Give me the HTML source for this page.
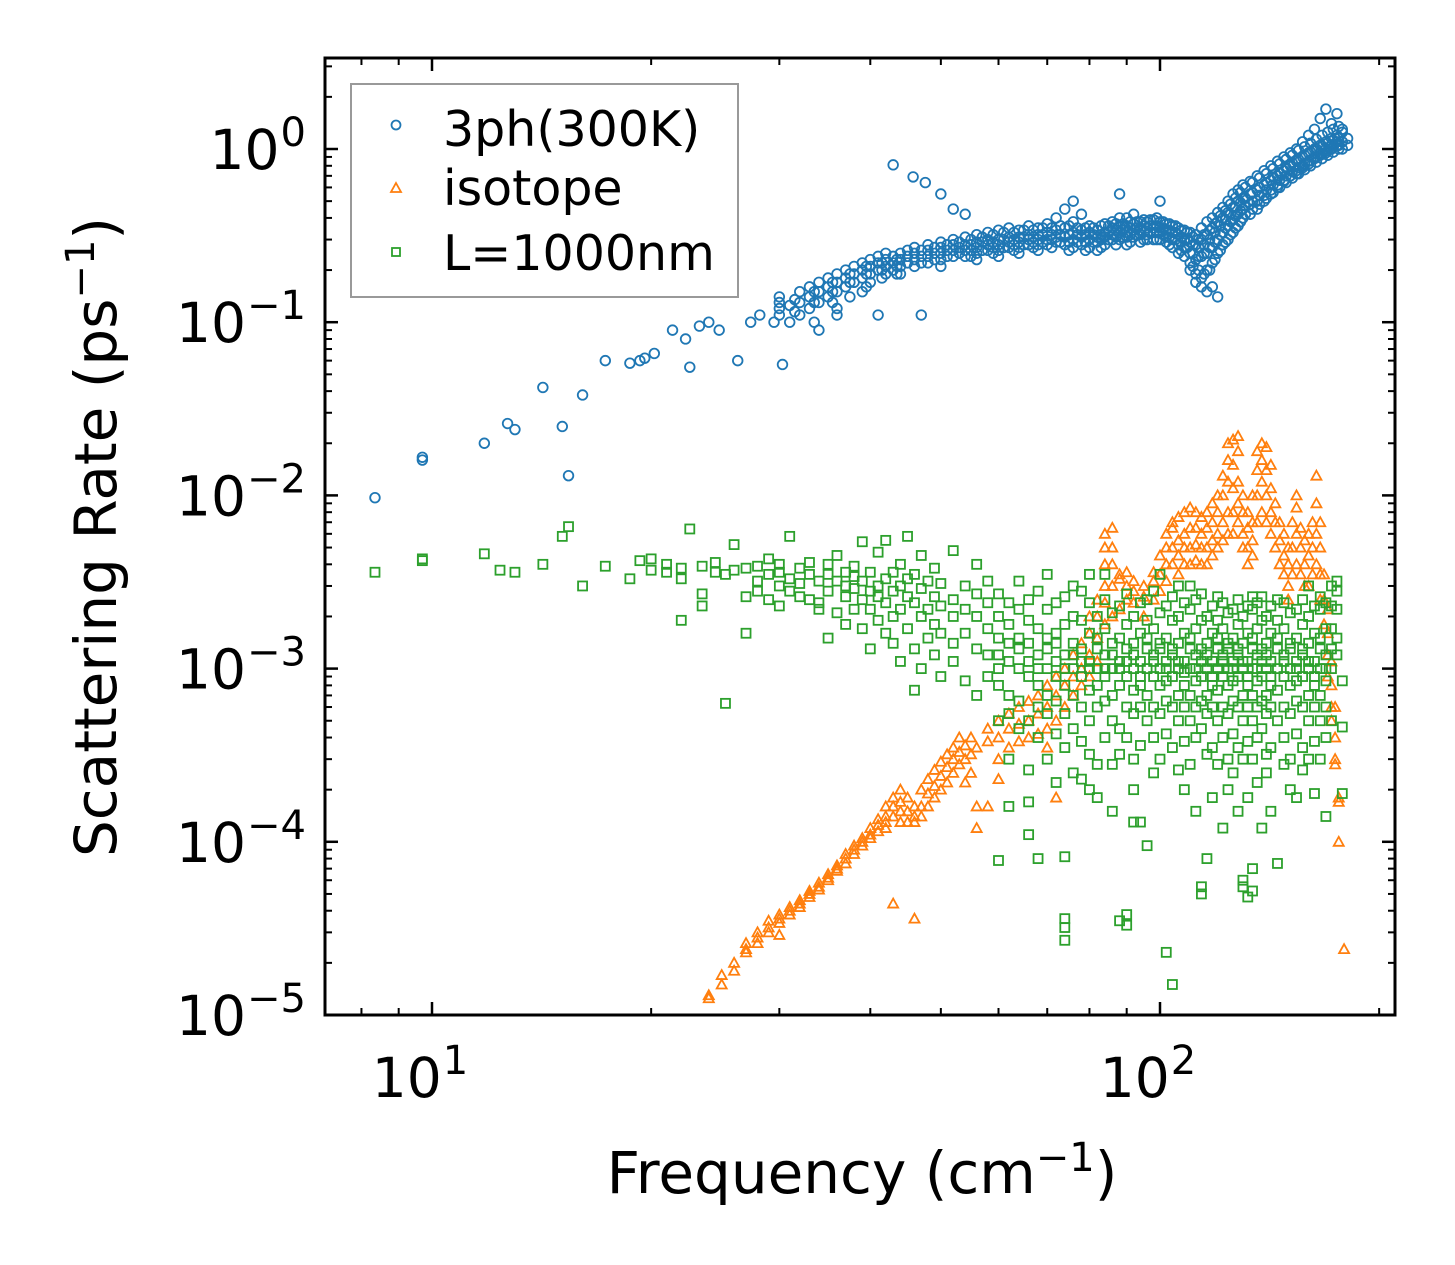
<!DOCTYPE html>
<html><head><meta charset="utf-8"><style>
body{margin:0;background:#fff;}
svg{display:block;font-family:"DejaVu Sans","Liberation Sans",sans-serif;}
</style></head><body>
<svg id="chart" width="1455" height="1265" viewBox="0 0 1455 1265" xmlns="http://www.w3.org/2000/svg">
<rect x="0" y="0" width="1455" height="1265" fill="#fff"/>
<g id="marks"></g>
<g id="axes"></g>
<g id="legend">
<rect x="351" y="84" width="387" height="213" fill="#fff" fill-opacity="0.8" stroke="#999" stroke-width="2"/>
<circle cx="396" cy="125" r="4.5" fill="none" stroke="#1f77b4" stroke-width="1.8"/>
<text x="443" y="146" font-size="49">3ph(300K)</text>
<polygon points="396,183 401,192 391,192" fill="none" stroke="#ff7f0e" stroke-width="1.8"/>
<text x="443" y="205" font-size="49">isotope</text>
<rect x="392" y="248" width="8" height="8" fill="none" stroke="#2ca02c" stroke-width="1.8"/>
<text x="443" y="270" font-size="49">L=1000nm</text>
</g>
<text x="862" y="1193" font-size="58" text-anchor="middle">Frequency (cm<tspan font-size="40" dy="-22">−1</tspan><tspan dy="22">)</tspan></text>
<text transform="translate(116,537) rotate(-90)" font-size="58" text-anchor="middle">Scattering Rate (ps<tspan font-size="40" dy="-22">−1</tspan><tspan dy="22">)</tspan></text>
</svg>
<script>
const xDecadeTicks=[10,100];
const yDecadeTicks=[1,0.1,0.01,0.001,0.0001,0.00001];
const yTickExps=["0","−1","−2","−3","−4","−5"];
const xTickExps=["1","2"];
const blueData=[[8.35,[0.0097]],[9.7,[0.0166,0.016]],[11.8,[0.020]],[12.7,[0.026]],[13.0,[0.024]],[14.2,[0.042]],[15.1,[0.025]],[15.4,[0.013]],[16.1,[0.038]],[17.3,[0.06]],[18.7,[0.058]],[19.3,[0.06]],[19.6,[0.062]],[20.2,[0.066]],[21.4,[0.09]],[22.3,[0.08]],[22.6,[0.055]],[23.3,[0.095]],[24,[0.1]],[24.8,[0.09]],[26.3,[0.06]],[27.4,[0.1]],[28.2,[0.11]],[29.5,[0.10]],[30.3,[0.057]],
[30,[0.12,0.13,0.11,0.14]],[31,[0.125,0.10]],[32,[0.13,0.15,0.11]],[33,[0.14,0.16,0.12]],[34,[0.15,0.17,0.13,0.09]],[35,[0.16,0.14,0.18]],[36,[0.17,0.15,0.19,0.12,0.11]],[37,[0.18,0.2,0.16]],[38,[0.19,0.17,0.21]],[39,[0.2,0.18,0.22,0.15]],[40,[0.21,0.19,0.23,0.17]],[41,[0.2,0.22,0.24,0.11]],[42,[0.21,0.23,0.19,0.25]],[43,[0.22,0.24,0.2,0.81]],[44,[0.23,0.21,0.25,0.19]],[45,[0.24,0.22,0.26]],[45.8,[0.69]],[46,[0.23,0.25,0.21,0.27]],[47,[0.11]],[47.6,[0.64]],[48,[0.24,0.26,0.22,0.28]],[50,[0.25,0.27,0.23,0.29,0.21,0.55]],[52,[0.26,0.24,0.28,0.3,0.45]],[54,[0.26,0.28,0.24,0.31,0.42]],[56,[0.27,0.25,0.29,0.32,0.23]],[58,[0.28,0.26,0.3,0.33]],[60,[0.28,0.3,0.26,0.34,0.24]],[62,[0.29,0.27,0.31,0.35]],[64,[0.29,0.31,0.27,0.34,0.25]],[66,[0.3,0.28,0.32,0.36]],[68,[0.3,0.32,0.28,0.35,0.26]],[70,[0.3,0.33,0.28,0.37]],[72,[0.31,0.29,0.34,0.4]],[74,[0.31,0.28,0.35,0.45]],[76,[0.3,0.33,0.27,0.5,0.38]],[78,[0.31,0.28,0.34,0.42]],[80,[0.3,0.33,0.27,0.36]],[82,[0.31,0.29,0.34,0.26]],[84,[0.31,0.33,0.28,0.37]],[86,[0.32,0.3,0.35,0.38]],[88,[0.33,0.3,0.36,0.4,0.55]],[90,[0.33,0.31,0.36,0.4,0.28]],[92,[0.34,0.31,0.37,0.42]],[94,[0.34,0.32,0.38,0.29]],[96,[0.35,0.32,0.38,0.3]],[98,[0.35,0.33,0.39,0.3]],[100,[0.35,0.33,0.38,0.5,0.3]],[102,[0.34,0.31,0.37,0.29]],[104,[0.33,0.3,0.36,0.27]],[106,[0.32,0.28,0.35,0.25]],[108,[0.3,0.27,0.34,0.24]],[110,[0.29,0.25,0.33,0.2,0.22]],[112,[0.28,0.23,0.32,0.19,0.17]],[114,[0.3,0.24,0.35,0.18,0.16]],[116,[0.32,0.25,0.38,0.2,0.15]],[118,[0.35,0.27,0.4,0.22,0.16]],[120,[0.38,0.3,0.43,0.25,0.14]],[122,[0.4,0.33,0.46,0.28]],[124,[0.43,0.36,0.5,0.3]],[126,[0.46,0.39,0.55,0.33]],[128,[0.5,0.42,0.58,0.36]],[130,[0.52,0.45,0.62,0.4]],[133,[0.55,0.48,0.65,0.42]],[136,[0.58,0.5,0.7,0.45]],[139,[0.62,0.54,0.75,0.5]],[142,[0.66,0.58,0.8,0.55]],[145,[0.7,0.62,0.85,0.6]],[148,[0.75,0.66,0.9,0.65]],[151,[0.8,0.7,0.95,0.7]],[154,[0.85,0.75,1.0,0.72]],[157,[0.9,0.8,1.1,0.78]],[160,[0.95,0.85,1.2,0.82]],[163,[1.0,0.9,1.3,0.88]],[166,[1.05,0.95,1.5,0.92]],[169,[1.1,1.0,1.7,0.95]],[172,[1.15,1.05,1.4,1.0]],[175,[1.2,1.1,1.6,1.05]],[178,[1.1,1.25,1.0,1.3]],[181,[1.05,1.15]]];
const blueFill=[[31.5,[0.115,0.135]],[33.5,[0.13,0.15,0.1]],[35.5,[0.15,0.17,0.13]],[37.5,[0.17,0.19,0.14]],[39.5,[0.19,0.21,0.16]],[41.5,[0.2,0.22,0.18]],[43.5,[0.21,0.23,0.19]],[47,[0.22,0.24,0.26]],[49,[0.23,0.25,0.27]],[51,[0.24,0.26,0.28]],[53,[0.25,0.27,0.29]],[55,[0.26,0.28,0.3,0.24]],[57,[0.26,0.29,0.31]],[59,[0.27,0.29,0.32,0.25]],[61,[0.27,0.3,0.33]],[63,[0.28,0.3,0.33,0.26]],[65,[0.28,0.31,0.34]],[67,[0.29,0.31,0.34,0.27]],[69,[0.29,0.32,0.35]],[71,[0.3,0.32,0.35,0.27]],[73,[0.29,0.32,0.36]],[75,[0.29,0.32,0.36,0.26]],[77,[0.29,0.32,0.35]],[79,[0.29,0.32,0.35,0.26]],[81,[0.29,0.32,0.35]],[83,[0.3,0.32,0.36,0.27]],[85,[0.3,0.33,0.36]],[87,[0.31,0.34,0.37,0.28]],[89,[0.31,0.34,0.37]],[91,[0.32,0.35,0.38,0.29]],[93,[0.32,0.35,0.38]],[95,[0.33,0.36,0.39,0.3]],[97,[0.33,0.36,0.39]],[99,[0.33,0.36,0.4,0.3]],[101,[0.32,0.35,0.38]],[103,[0.31,0.34,0.37,0.28]],[105,[0.3,0.33,0.36]],[107,[0.29,0.31,0.34,0.26]],[109,[0.27,0.3,0.33]],[111,[0.25,0.28,0.31,0.21]],[113,[0.24,0.27,0.3,0.2]],[115,[0.25,0.28,0.32,0.19]],[117,[0.27,0.3,0.34,0.2]],[119,[0.29,0.33,0.37,0.23]],[121,[0.32,0.36,0.41,0.26]],[123,[0.35,0.39,0.44,0.29]],[125,[0.38,0.42,0.48,0.32]],[127,[0.41,0.46,0.52,0.35]],[129,[0.44,0.49,0.56,0.38]],[131,[0.47,0.52,0.6,0.42]],[134,[0.5,0.56,0.64,0.45]],[137,[0.54,0.6,0.68,0.48]],[140,[0.58,0.64,0.72,0.52]],[143,[0.62,0.69,0.77,0.56]],[146,[0.66,0.73,0.82,0.6]],[149,[0.7,0.78,0.87,0.64]],[152,[0.74,0.83,0.92,0.68]],[155,[0.78,0.87,0.98,0.72]],[158,[0.82,0.92,1.03,0.76]],[161,[0.86,0.96,1.08,0.8]],[164,[0.9,1.0,1.14,0.84]],[167,[0.94,1.04,1.2,0.88]],[170,[0.98,1.08,1.25,0.92]],[173,[1.02,1.12,1.3,0.96]],[176,[1.05,1.15,1.35,1.0]]];
const orangeData=[[24,[1.25e-5,1.3e-5]],[25,[1.5e-5,1.7e-5]],[26,[1.8e-5,2.0e-5]],[27,[2.4e-5,2.6e-5,2.3e-5]],[28,[2.6e-5,3.0e-5,2.8e-5]],[29,[3.2e-5,3.5e-5,3.0e-5]],[30,[3.4e-5,3.8e-5,3.6e-5,2.9e-5]],[31,[3.8e-5,4.2e-5,4e-5]],[32,[4.2e-5,4.6e-5,4.4e-5]],[33,[4.8e-5,5.2e-5,5e-5]],[34,[5.3e-5,5.8e-5,5.5e-5]],[35,[6e-5,6.5e-5,6.2e-5]],[36,[6.8e-5,7.3e-5,7e-5]],[37,[7.5e-5,8e-5,8.5e-5]],[38,[8.5e-5,9e-5,9.5e-5]],[39,[9.5e-5,1.0e-4,1.05e-4]],[40,[1.05e-4,1.1e-4,1.2e-4]],[41,[1.15e-4,1.25e-4,1.35e-4]],[42,[1.3e-4,1.4e-4,1.6e-4,1.2e-4]],[43,[1.4e-4,1.6e-4,1.8e-4,4.4e-5]],[44,[1.5e-4,1.7e-4,1.3e-4,2.0e-4]],[45,[1.3e-4,1.5e-4,1.8e-4]],[46,[1.3e-4,1.4e-4,3.6e-5,1.6e-4]],[47,[1.4e-4,1.6e-4,2e-4]],[48,[1.6e-4,1.9e-4,2.3e-4]],[49,[1.8e-4,2.1e-4,2.6e-4]],[50,[2e-4,2.4e-4,2.9e-4]],[51,[2.2e-4,2.7e-4,3.2e-4]],[52,[2.5e-4,3e-4,3.5e-4]],[53,[2.8e-4,3.3e-4,4e-4]],[54,[3e-4,3.6e-4,2.2e-4]],[55,[3.2e-4,4e-4,2.5e-4]],[56,[1.2e-4,1.6e-4,3.5e-4]],[58,[3.8e-4,4.5e-4,1.6e-4]],[60,[4e-4,5e-4,3e-4,2.3e-4]],[62,[4.5e-4,5.5e-4,3.5e-4]],[64,[4.8e-4,6e-4,3.8e-4]],[66,[5e-4,6.5e-4,4e-4]],[68,[5.5e-4,7e-4,4.2e-4]],[70,[6e-4,8e-4,4.5e-4,3.5e-4]],[72,[7e-4,9e-4,5e-4,1.8e-4]],[74,[8e-4,1e-3,6e-4]],[76,[9e-4,1.2e-3,7e-4]],[78,[1e-3,1.4e-3,8e-4]],[80,[1.2e-3,1.6e-3,9e-4,2e-3]],[82,[1.5e-3,2e-3,1.1e-3,2.5e-3]],[84,[1.8e-3,2.4e-3,3e-3,4e-3,5e-3,6e-3]],[86,[2e-3,3e-3,4e-3,5e-3,6.5e-3]],[88,[2.2e-3,3.3e-3,3.5e-3]],[90,[2.5e-3,3e-3,3.6e-3]],[92,[2.8e-3,3.2e-3,2.4e-3]],[95,[2.6e-3,3e-3,2e-3]],[98,[2.5e-3,3.2e-3,3.6e-3]],[100,[2.8e-3,3.5e-3,4.5e-3]],[102,[3.2e-3,4e-3,5e-3,6e-3]],[104,[4e-3,5e-3,6.5e-3,7e-3]],[106,[4.5e-3,5.5e-3,7.5e-3,3.5e-3]],[108,[5e-3,6e-3,8e-3,4e-3]],[110,[5e-3,6.5e-3,8.5e-3,4e-3]],[112,[5.2e-3,6.5e-3,8e-3,4.2e-3]],[114,[5e-3,6e-3,7.5e-3,4e-3]],[116,[5e-3,6.5e-3,8e-3,4e-3]],[118,[5.5e-3,7e-3,9e-3,4.5e-3]],[120,[6e-3,8e-3,1e-2,5e-3]],[122,[7e-3,1e-2,1.3e-2,5.5e-3]],[124,[8e-3,1.2e-2,1.6e-2,6e-3,2e-2]],[126,[8e-3,1.1e-2,1.5e-2,2.1e-2,6e-3]],[128,[7e-3,9e-3,1.2e-2,1.8e-2,2.2e-2]],[130,[6e-3,8e-3,1e-2,5e-3]],[132,[5e-3,6.5e-3,8e-3,4e-3]],[134,[5.5e-3,7e-3,1e-2,4.5e-3]],[136,[7e-3,1e-2,1.4e-2,1.8e-2]],[138,[8e-3,1.2e-2,1.6e-2,2e-2]],[140,[7e-3,1e-2,1.4e-2,1.9e-2]],[142,[6e-3,8e-3,1.1e-2,1.5e-2]],[144,[5e-3,7e-3,9e-3]],[146,[4e-3,5.5e-3,7e-3]],[148,[3.5e-3,4.5e-3,6e-3]],[150,[3e-3,4e-3,5e-3,2.5e-3]],[152,[3.5e-3,5e-3,7e-3]],[154,[4e-3,6e-3,8.5e-3,1e-2]],[156,[3.5e-3,5e-3,6.5e-3]],[158,[3e-3,4e-3,5.5e-3]],[160,[3e-3,4.5e-3,6e-3]],[162,[3.5e-3,5e-3,7e-3]],[164,[4e-3,6e-3,9e-3,1.3e-2]],[166,[2.5e-3,3.5e-3,5e-3,7e-3]],[168,[1.8e-3,2.5e-3,3.5e-3]],[170,[1.2e-3,1.6e-3,2.2e-3,9e-4]],[172,[8e-4,1.1e-3,6e-4,5e-4]],[174,[4e-4,6e-4,3e-4,2.8e-4]],[176,[1.7e-4,1.8e-4,1.0e-4]],[179,[2.4e-5]]];
const greenData=[[8.35,[3.6e-3]],[9.7,[4.3e-3,4.2e-3]],[11.8,[4.6e-3]],[12.4,[3.7e-3]],[13,[3.6e-3]],[14.2,[4e-3]],[15.1,[5.8e-3]],[15.4,[6.6e-3]],[16.1,[3e-3]],[17.3,[3.9e-3]],[18.7,[3.3e-3]],[19.3,[4.2e-3]],[20,[3.7e-3,4.3e-3]],[21,[4e-3,3.6e-3]],[22,[1.9e-3,3.8e-3,3.3e-3]],[22.6,[6.4e-3]],[23.5,[3.9e-3,2.7e-3,2.3e-3]],[24.5,[3.6e-3,4.1e-3]],[25.3,[6.3e-4,3.5e-3]],[26,[5.2e-3,3.7e-3]],[27,[1.6e-3,2.6e-3,3.8e-3]],[28,[3.9e-3,3.2e-3,2.8e-3]],[29,[4.3e-3,3.5e-3,2.5e-3]],[30,[3.6e-3,3e-3,4e-3,2.3e-3]],[31,[3.3e-3,5.8e-3,2.8e-3]],[32,[3.8e-3,3.1e-3,2.6e-3]],[33,[3.5e-3,2.5e-3,4.1e-3]],[34,[2.4e-3,3.2e-3,2.2e-3]],[35,[4e-3,3.5e-3,1.5e-3,2.8e-3]],[36,[3.2e-3,4.5e-3,2.1e-3]],[37,[3.6e-3,3e-3,1.8e-3,2.6e-3]],[38,[3.9e-3,2.9e-3,3.4e-3,2.2e-3]],[39,[3.2e-3,5.4e-3,1.7e-3,2.5e-3]],[40,[3.6e-3,2.8e-3,1.3e-3,2.2e-3]],[41,[3e-3,4.7e-3,1.9e-3,2.6e-3]],[42,[3.3e-3,2.4e-3,1.6e-3,5.5e-3]],[43,[2.8e-3,3.6e-3,1.4e-3,2e-3]],[44,[3e-3,2.2e-3,1.1e-3,4e-3]],[45,[2.6e-3,3.3e-3,1.7e-3,5.8e-3]],[46,[2.4e-3,1.3e-3,3.5e-3,7.5e-4]],[47,[2.9e-3,2e-3,1e-3,4.5e-3]],[48,[2.2e-3,3.2e-3,1.5e-3]],[49,[2.6e-3,1.2e-3,3.8e-3,1.8e-3]],[50,[2.3e-3,3.1e-3,9e-4,1.6e-3]],[52,[2.5e-3,1.4e-3,4.8e-3,2e-3,1.1e-3]],[54,[2.2e-3,3e-3,1.6e-3,8.5e-4]],[56,[2.7e-3,1.3e-3,2e-3,4e-3,7e-4]],[58,[2.4e-3,1.7e-3,9e-4,3.2e-3,1.2e-3]],
[60,[1.2e-3,2e-3,8e-4,1.5e-3,5e-4,2.7e-3,1e-3,7.8e-5]],[62,[1.1e-3,1.8e-3,7e-4,2.4e-3,1.4e-3,5.5e-4,1.6e-4,3e-4]],[64,[1e-3,1.5e-3,2.2e-3,6.5e-4,3.2e-3,1.3e-3,4.5e-4]],[66,[9e-4,1.4e-3,2.5e-3,1.1e-3,5e-4,1.9e-3,2.6e-4,1.7e-4,1.1e-4]],[68,[1.2e-3,8e-4,1.7e-3,2.8e-3,6e-4,1e-3,4e-4,8e-5]],[70,[1e-3,1.5e-3,2.2e-3,7e-4,1.3e-3,5.5e-4,3.5e-3,3e-4]],[72,[1.1e-3,9e-4,1.6e-3,2.4e-3,6.5e-4,1.4e-3,4.2e-4,2.2e-4]],[74,[1.2e-3,8e-4,1.8e-3,2.6e-3,5.5e-4,1e-3,3.5e-4,8.2e-5,3.6e-5,2.7e-5,3.2e-5]],[76,[1e-3,1.4e-3,2e-3,7e-4,3e-3,1.2e-3,4.5e-4,2.5e-4]],[78,[9e-4,1.3e-3,1.9e-3,6e-4,1.1e-3,2.8e-3,3.8e-4,2.3e-4]],[80,[1.1e-3,7.5e-4,1.6e-3,2.4e-3,1e-3,5e-4,3.5e-3,3.2e-4,2e-4]],[82,[1e-3,1.3e-3,8e-4,2e-3,1.5e-3,6e-4,2.8e-4,1.8e-4]],[84,[1.2e-3,9e-4,1.7e-3,2.5e-3,6.5e-4,1e-3,4e-4,3.5e-3]],[86,[1e-3,1.4e-3,7e-4,2.1e-3,1.2e-3,5e-4,2.8e-4,1.5e-4]],[88,[1.1e-3,8e-4,1.5e-3,2.3e-3,1e-3,4.5e-4,3.2e-4,3.5e-5]],[90,[9e-4,1.3e-3,1.8e-3,6e-4,1.1e-3,2.7e-3,4e-4,3.8e-5,3.3e-5]],[92,[1e-3,1.4e-3,7.5e-4,2e-3,1.2e-3,5.5e-4,3e-4,2e-4,1.3e-4]],[94,[1.1e-3,8e-4,1.6e-3,2.4e-3,9e-4,6e-4,3.6e-4,1.3e-4]],[96,[1e-3,1.3e-3,7e-4,1.9e-3,1.5e-3,5e-4,2.5e-3,9.5e-5]],[98,[1.2e-3,9e-4,1.7e-3,6e-4,1.1e-3,2.8e-3,4e-4,2.5e-4]],[100,[1e-3,1.4e-3,8e-4,2.1e-3,1.3e-3,5.5e-4,3.5e-3,3e-4]],[102,[1.1e-3,8.5e-4,1.5e-3,2.3e-3,6.5e-4,1e-3,4.2e-4,2.3e-5]],[104,[9e-4,1.3e-3,1.9e-3,6e-4,1.2e-3,2.6e-3,3.5e-4,1.5e-5]],[106,[1e-3,1.4e-3,7e-4,2e-3,1.1e-3,5e-4,3e-3,2.6e-4]],[108,[1.1e-3,8e-4,1.6e-3,2.4e-3,9.5e-4,6e-4,3.8e-4,2e-4]],[110,[1e-3,1.5e-3,7e-4,2.2e-3,1.3e-3,5e-4,3e-3,2.8e-4]],[112,[1.2e-3,8.5e-4,1.7e-3,2.5e-3,6e-4,1e-3,4e-4,1.5e-4]],[114,[9e-4,1.3e-3,1.9e-3,6.5e-4,1.1e-3,2.7e-3,4.5e-4,5.5e-5,5e-5]],[116,[1e-3,1.4e-3,7e-4,2e-3,1.2e-3,5.5e-4,3.2e-4,8e-5]],[118,[1.1e-3,8e-4,1.6e-3,2.3e-3,9e-4,6e-4,3.5e-4,1.8e-4]],[120,[1e-3,1.3e-3,7.5e-4,1.9e-3,1.5e-3,5e-4,2.6e-3,2.8e-4]],[122,[1.2e-3,9e-4,1.7e-3,6e-4,1.1e-3,2.4e-3,4e-4,1.2e-4]],[124,[1e-3,1.4e-3,8e-4,2.1e-3,1.3e-3,5.5e-4,3e-4,2e-4]],[126,[1.1e-3,8.5e-4,1.5e-3,2.2e-3,6.5e-4,1e-3,4.2e-4,2.5e-4]],[128,[9e-4,1.3e-3,1.8e-3,6e-4,1.2e-3,2.5e-3,3.5e-4,1.5e-4]],[130,[1e-3,1.4e-3,7e-4,2e-3,1.1e-3,5e-4,3e-4,6e-5,5.5e-5]],[132,[1.1e-3,8e-4,1.6e-3,2.3e-3,9e-4,6e-4,3.8e-4,1.8e-4,4.8e-5]],[134,[1e-3,1.5e-3,7e-4,2.2e-3,1.3e-3,5e-4,2.6e-3,3e-4,7e-5,5.2e-5]],[136,[1.2e-3,8.5e-4,1.7e-3,2.4e-3,6e-4,1e-3,4e-4,2.2e-4]],[138,[9e-4,1.3e-3,1.9e-3,6.5e-4,1.1e-3,2.6e-3,4.5e-4,1.2e-4]],[140,[1e-3,1.4e-3,7e-4,2e-3,1.2e-3,5.5e-4,3.2e-4,2.5e-4]],[142,[1.1e-3,8e-4,1.6e-3,2.3e-3,9e-4,6e-4,3.5e-4,1.5e-4]],[145,[1e-3,1.3e-3,7.5e-4,1.9e-3,1.5e-3,5e-4,2.5e-3,7.5e-5]],[148,[1.2e-3,9e-4,1.7e-3,6e-4,1.1e-3,2.4e-3,4e-4,2.8e-4]],[151,[1e-3,1.4e-3,8e-4,2.1e-3,1.3e-3,5.5e-4,3e-4,2e-4]],[154,[1.1e-3,8.5e-4,1.5e-3,2.2e-3,6.5e-4,1e-3,4.2e-4,1.8e-4]],[157,[9e-4,1.3e-3,1.8e-3,6e-4,1.2e-3,2.5e-3,3.5e-4,2.6e-4]],[160,[1e-3,1.4e-3,7e-4,2e-3,1.1e-3,5e-4,3e-4,3e-3]],[163,[1.1e-3,8e-4,1.6e-3,2.3e-3,9e-4,6e-4,3.8e-4,1.9e-4]],[166,[1e-3,1.5e-3,7e-4,2.2e-3,1.3e-3,5e-4,2.6e-3,3e-4]],[169,[1.2e-3,8.5e-4,1.7e-3,2.4e-3,6e-4,1e-3,4e-4,1.4e-4]],[172,[1.3e-3,1.7e-3,2.3e-3,1e-3,3e-3,5e-4]],[175,[1.5e-3,2.2e-3,3.2e-3,1.2e-3,2.8e-3]],[178,[8.5e-4,1.9e-4,4.6e-4]]];

const NS='http://www.w3.org/2000/svg';
const L=325,R=1395,T=58,B=1015;
const X10=432,XDEC=728,Y1=149,YDEC=173.2;
function xs(f){return X10+(Math.log10(f)-1)*XDEC;}
function ys(r){return Y1-Math.log10(r)*YDEC;}
function mk(tag,attrs,parent){const e=document.createElementNS(NS,tag);for(const k in attrs)e.setAttribute(k,attrs[k]);parent.appendChild(e);return e;}
const marks=document.getElementById('marks');
const axes=document.getElementById('axes');

const gB=mk('g',{},marks);


blueData.concat(blueFill).forEach(([f,rs])=>rs.forEach(r=>{
  const c=mk('circle',{cx:xs(f),cy:ys(r),r:4.8,fill:'none',stroke:'#1f77b4','stroke-width':1.8},gB);
  
  
}));
const gO=mk('g',{},marks);


orangeData.forEach(([f,rs])=>rs.forEach(r=>{
  const x=xs(f),y=ys(r);
  const p=mk('polygon',{points:`${x},${y-5} ${x+5},${y+4} ${x-5},${y+4}`,fill:'none',stroke:'#ff7f0e','stroke-width':1.8},gO);
  
  
}));
const gG=mk('g',{},marks);


greenData.forEach(([f,rs])=>rs.forEach(r=>{
  const x=xs(f),y=ys(r);
  const s=mk('rect',{x:x-4.5,y:y-4.5,width:9,height:9,fill:'none',stroke:'#2ca02c','stroke-width':1.8},gG);
  
  
}));

const fr=mk('rect',{x:L,y:T,width:R-L,height:B-T,fill:'none',stroke:'#000','stroke-width':3},axes);


for(let d=0;d<3;d++){for(let m=1;m<10;m++){
  const v=m*Math.pow(10,d);const x=xs(v);if(x<L||x>R)continue;
  const len=m===1?13:7;const w=m===1?2.5:2;
  mk('line',{x1:x,y1:B,x2:x,y2:B-len,stroke:'#000','stroke-width':w},axes);
  mk('line',{x1:x,y1:T,x2:x,y2:T+len,stroke:'#000','stroke-width':w},axes);
}}
xDecadeTicks.forEach((v,i)=>{
  const t=mk('text',{x:xs(v)-12,y:1097,'font-size':55,'text-anchor':'middle'},axes);
  
  
  t.textContent='10';
  const s=mk('tspan',{'font-size':40,dy:-23,dx:1},t);s.textContent=xTickExps[i];
});
for(let d=-5;d<=0;d++){for(let m=1;m<10;m++){
  const v=m*Math.pow(10,d);const y=ys(v);if(y<T||y>B)continue;
  const len=m===1?13:7;const w=m===1?2.5:2;
  mk('line',{x1:L,y1:y,x2:L+len,y2:y,stroke:'#000','stroke-width':w},axes);
  mk('line',{x1:R,y1:y,x2:R-len,y2:y,stroke:'#000','stroke-width':w},axes);
}}
yDecadeTicks.forEach((v,i)=>{
  const y=ys(v);
  const t=mk('text',{x:306,y:y+20,'font-size':55,'text-anchor':'end'},axes);
  
  
  t.textContent='10';
  const s=mk('tspan',{'font-size':40,dy:-23,dx:1},t);s.textContent=yTickExps[i];
});
</script>
</body></html>
